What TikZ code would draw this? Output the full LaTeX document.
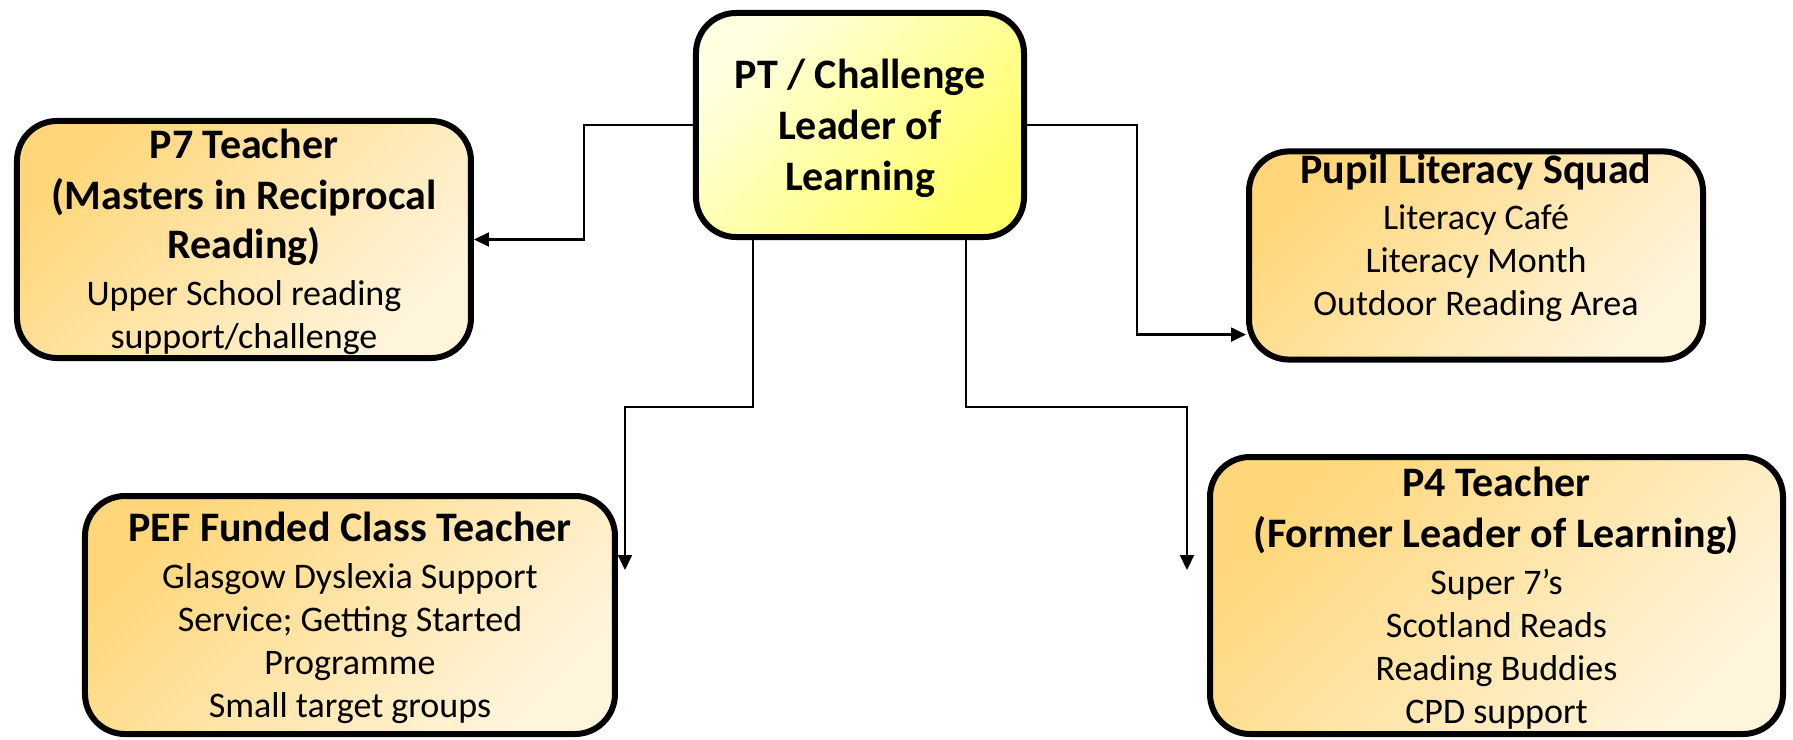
\documentclass[tikz,border=0pt]{standalone}
\usepackage{fontspec}
\setmainfont{Carlito}
\usepackage{tikz}
\usetikzlibrary{positioning, arrows.meta}
\definecolor{roletop}{HTML}{FFD77A}
\definecolor{rolebottom}{HTML}{FFF4DC}
\definecolor{leadtop}{HTML}{FFFFE2}
\definecolor{leadbottom}{HTML}{FFFF66}
\newcommand{\rolehead}[1]{{\fontsize{21}{25.5}\selectfont\bfseries #1}}
\tikzset{
	every node/.append style={
		font=\fontsize{18}{21.5}\selectfont,
	},
	role/.append style={
		draw,
		line width=3pt,
		rounded corners=20pt,
		align=center,
		inner sep=0.5mm,
		text depth=0.5pt,
		top color=roletop,
		bottom color=rolebottom,
		shading angle=45,
	},
	leadbox/.append style={
		role,
		top color=leadtop,
		bottom color=leadbottom,
		shading angle=45,
	},
	link/.append style={
		line width=1.1pt,
		>={Triangle[length=7.5pt,width=7pt]},
	},
}

\begin{document}
\begin{tikzpicture}[]

\node(lead)[leadbox, minimum width=164pt, minimum height=112pt]{\rolehead{PT / Challenge}\\[4pt]\rolehead{Leader of}\\[4pt]\rolehead{Learning}};
\useasboundingbox ([shift={(-346.5pt,5pt)}]lead.north west) rectangle ++(896.5pt,-369.5pt);

\node(p7)[role, left=109.5pt of lead, yshift=-57.25pt, minimum width=227pt, minimum height=118.5pt]{\rolehead{P7 Teacher}\\[4pt]\rolehead{(Masters in Reciprocal}\\[3pt]\rolehead{Reading)}\\[2pt]Upper School reading\\support/challenge};
\node(pupil)[role, right=109.5pt of lead, yshift=-65.25pt, minimum width=227pt, minimum height=102.5pt, text depth=20.5pt]{\rolehead{Pupil Literacy Squad}\\[1.5pt]Literacy Café\\Literacy Month\\Outdoor Reading Area};
\node(pef)[role, below left=126.5pt and 37.5pt of lead, minimum width=265pt, minimum height=119pt]{\rolehead{PEF Funded Class Teacher}\\[2pt]Glasgow Dyslexia Support\\Service; Getting Started\\Programme\\Small target groups};
\node(p4)[role, below right=107pt and 90pt of lead, minimum width=286.5pt, minimum height=138.5pt]{\rolehead{P4 Teacher}\\[4pt]\rolehead{(Former Leader of Learning)}\\[2pt]Super 7’s\\Scotland Reads\\Reading Buddies\\CPD support};

\coordinate[left=54.5pt of lead.west] (kneeL);
\coordinate[right=55pt of lead.east] (kneeR);
\coordinate (endL) at ([xshift=3.5pt, yshift=-38.5pt]pef.north east);
\coordinate (endR) at ([xshift=-10pt, yshift=-58pt]p4.north west);

\draw[link, ->] (lead.west) -- (kneeL) |- (p7.east);
\draw[link, ->] (lead.east) -- (kneeR) |- ([yshift=14pt]pupil.south west);
\draw[link, ->] ([xshift=30pt]lead.south west) -- ++(0,-83.5pt) -| (endL);
\draw[link, ->] ([xshift=-30.5pt]lead.south east) -- ++(0,-83.5pt) -| (endR);

\end{tikzpicture}
\end{document}
